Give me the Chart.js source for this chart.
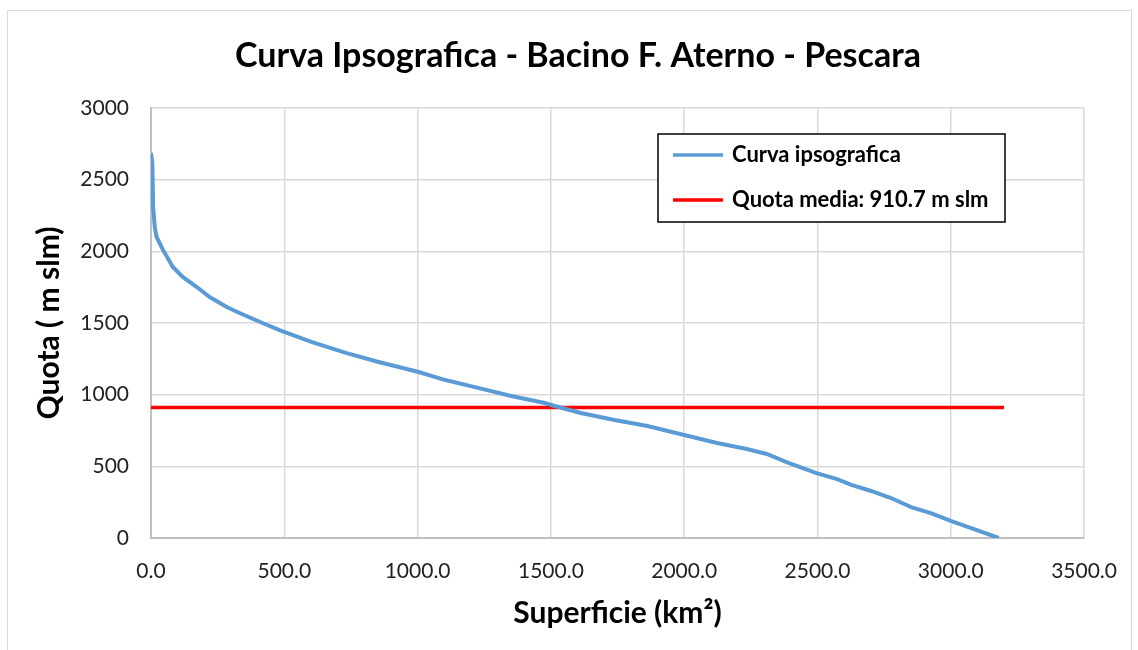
<!DOCTYPE html>
<html>
<head>
<meta charset="utf-8">
<script src="https://cdn.jsdelivr.net/npm/chart.js@4/dist/chart.umd.min.js"></script>
<style>
  body { margin: 0; background: #fff; }
  #wrap { width: 1138px; height: 650px; }
</style>
</head>
<body>
<div id="wrap"><canvas id="myChart" width="1138" height="650"></canvas></div>
<script>
'use strict';
// data
var chartTitle = 'Curva Ipsografica - Bacino F. Aterno - Pescara';
var xTitle = 'Superficie (km\u00B2)';
var yTitle = 'Quota ( m slm)';
var seriesNames = ['Curva ipsografica', 'Quota media: 910.7 m slm'];
var superficie = [0, 5, 8, 14, 21, 45, 82, 119, 172, 220, 284, 332, 418, 482, 604, 731, 854, 1004, 1104, 1227, 1351, 1477, 1515, 1612, 1739, 1862, 2000, 2123, 2235, 2310, 2384, 2496, 2571, 2627, 2701, 2776, 2851, 2925, 3000, 3074, 3180];
var quota = [2686, 2616, 2309, 2170, 2100, 2010, 1891, 1821, 1751, 1681, 1612, 1570, 1500, 1451, 1367, 1291, 1228, 1158, 1102, 1047, 991, 942, 921, 872, 823, 781, 719, 663, 621, 586, 530, 453, 412, 370, 328, 279, 216, 174, 119, 70, 0];
var quotaMedia = 910.7;
var mediaRange = [0, 3200];
var xTicks = [0, 3500, 500];
var yTicks = [0, 3000, 500];

var fontFam = 'Lato, "Open Sans", sans-serif';

var curvePoints = [];
for (let i = 0; i < superficie.length; i++) {
  curvePoints.push({x: superficie[i], y: quota[i]});
}
var mediaPoints = mediaRange.map(x => ({x: x, y: quotaMedia}));

// light border round the whole chart + the title (centred on the frame, not the plot)
var frame = {
  id: 'frame',
  beforeDraw(chart) {
    let ctx = chart.ctx;
    ctx.save();
    ctx.fillStyle = '#fff';
    ctx.fillRect(0, 0, chart.width, chart.height);
    ctx.strokeStyle = '#d9d9d9';
    ctx.lineWidth = 1;
    ctx.strokeRect(7.5, 10.5, 1124, 645);
    ctx.fillStyle = '#000';
    ctx.font = 'bold 34px ' + fontFam;
    ctx.textAlign = 'center';
    ctx.textBaseline = 'alphabetic';
    ctx.fillText(chartTitle, 578, 67);
    ctx.restore();
  }
};

// legend inside plot with a black box
var boxLegend = {
  id: 'boxLegend',
  afterDatasetsDraw(chart) {
    let ctx = chart.ctx;
    let a = chart.chartArea;
    let left = a.left + 507, top = a.top + 26, w = 347, h = 88;
    ctx.save();
    ctx.fillStyle = '#fff';
    ctx.fillRect(left, top, w, h);
    ctx.strokeStyle = '#000';
    ctx.lineWidth = 1.5;
    ctx.strokeRect(left, top, w, h);
    ctx.font = 'bold 22px ' + fontFam;
    ctx.textBaseline = 'middle';
    chart.data.datasets.forEach((ds, i) => {
      let y = top + 21 + i * 45;
      ctx.strokeStyle = ds.borderColor;
      ctx.lineWidth = 3.5;
      ctx.beginPath();
      ctx.moveTo(left + 15, y);
      ctx.lineTo(left + 65, y);
      ctx.stroke();
      ctx.fillStyle = '#000';
      ctx.fillText(ds.label, left + 74, y);
    });
    ctx.restore();
  }
};

var ctx = document.getElementById('myChart').getContext('2d');
// eslint-disable-next-line no-undef
new Chart(ctx, {
  type: 'line',
  data: {
    datasets: [{
      label: seriesNames[0],
      data: curvePoints,
      borderColor: '#5b9bd5',
      borderWidth: 4,
      pointRadius: 0,
      tension: 0
    }, {
      label: seriesNames[1],
      data: mediaPoints,
      borderColor: '#ff0000',
      borderWidth: 3.5,
      pointRadius: 0
    }]
  },
  options: {
    responsive: false,
    animation: false,
    layout: { padding: { left: 15, right: 49, top: 108, bottom: 15 } },
    plugins: {
      legend: { display: false },
      tooltip: { enabled: false },
      title: { display: false }
    },
    scales: {
      x: {
        type: 'linear',
        min: xTicks[0],
        max: xTicks[1],
        afterFit(scale) { scale.height = 97; },
        ticks: {
          stepSize: xTicks[2],
          padding: 21,
          color: '#222',
          font: { family: fontFam, size: 21 },
          callback: v => v.toFixed(1)
        },
        grid: { color: '#d9d9d9', lineWidth: 1.5, drawTicks: false },
        border: { color: '#bfbfbf', width: 2 },
        title: {
          display: true,
          text: xTitle,
          color: '#000',
          font: { family: fontFam, size: 30, weight: 'bold' },
          padding: { top: 16 }
        }
      },
      y: {
        min: yTicks[0],
        max: yTicks[1],
        afterFit(scale) { scale.width = 136; },
        ticks: {
          stepSize: yTicks[2],
          padding: 22,
          color: '#222',
          font: { family: fontFam, size: 21 },
          callback: v => String(v)
        },
        grid: { color: '#d9d9d9', lineWidth: 1.5, drawTicks: false },
        border: { color: '#bfbfbf', width: 2 },
        title: {
          display: true,
          text: yTitle,
          color: '#000',
          font: { family: fontFam, size: 30, weight: 'bold' },
          padding: { bottom: 0, top: 16 }
        }
      }
    }
  },
  plugins: [frame, boxLegend]
});
</script>
</body>
</html>
